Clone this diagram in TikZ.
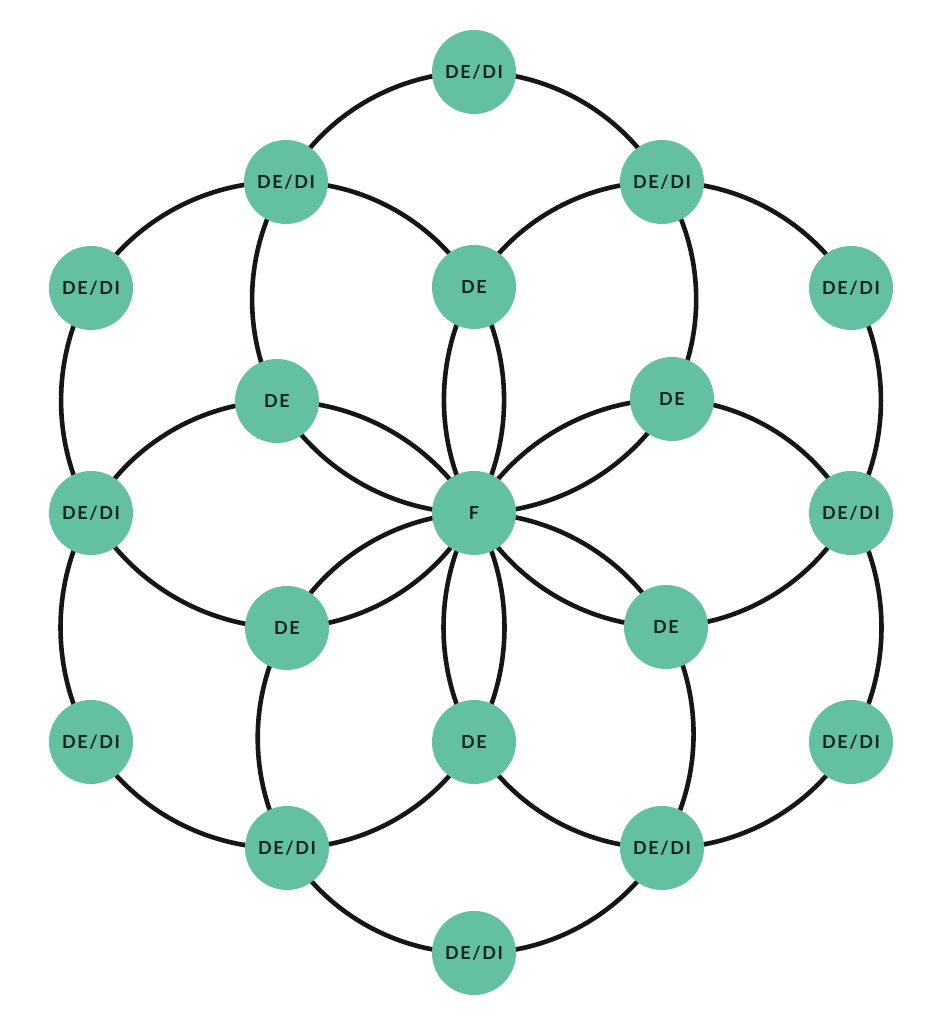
\documentclass[tikz,border=0pt]{standalone}
\usepackage{fontspec}
\setmainfont{Lato}
\usetikzlibrary{backgrounds}
\definecolor{nodegreen}{HTML}{63C0A0}
\definecolor{txt}{HTML}{17231F}
\definecolor{ring}{HTML}{161616}
\tikzset{
  spot/.style={circle, fill=nodegreen, minimum size=84pt, inner sep=0pt,
    text=txt, font=\fontsize{18}{20}\selectfont\bfseries\addfontfeatures{LetterSpace=9}},
  ringline/.style={draw=ring, line width=4.6pt, every to/.style={bend right=30, looseness=0.91}}
}
\begin{document}
\begin{tikzpicture}[x=1pt,y=1pt]
\useasboundingbox (0,0) rectangle (944,1031);
% centre
\node[spot] (F) at (474,518) {F};
% inner ring
\node[spot] (d90)  at (474,744) {DE};
\node[spot] (d30)  at (672,632) {DE};
\node[spot] (d330) at (666,404) {DE};
\node[spot] (d270) at (474,289) {DE};
\node[spot] (d210) at (287,403) {DE};
\node[spot] (d150) at (277,630) {DE};
% outer points
\node[spot] (o90)  at (474,959) {DE/DI};
\node[spot] (o30)  at (851,743) {DE/DI};
\node[spot] (o330) at (851,289) {DE/DI};
\node[spot] (o270) at (474,78)  {DE/DI};
\node[spot] (o210) at (91,289)  {DE/DI};
\node[spot] (o150) at (91,743)  {DE/DI};
% middle points
\node[spot] (m0)   at (851,518) {DE/DI};
\node[spot] (m60)  at (662,849) {DE/DI};
\node[spot] (m120) at (286,849) {DE/DI};
\node[spot] (m180) at (91,518)  {DE/DI};
\node[spot] (m240) at (287,183) {DE/DI};
\node[spot] (m300) at (662,183) {DE/DI};
\begin{scope}[on background layer]
\fill[white] (0,0) rectangle (944,1031);
\begin{scope}[ringline]
\draw (F.center) to (d30.center) to (m60.center) to (o90.center) to (m120.center) to (d150.center) to (F.center);
\draw (F.center) to (d330.center) to (m0.center) to (o30.center) to (m60.center) to (d90.center) to (F.center);
\draw (F.center) to (d270.center) to (m300.center) to (o330.center) to (m0.center) to (d30.center) to (F.center);
\draw (F.center) to (d210.center) to (m240.center) to (o270.center) to (m300.center) to (d330.center) to (F.center);
\draw (F.center) to (d150.center) to (m180.center) to (o210.center) to (m240.center) to (d270.center) to (F.center);
\draw (F.center) to (d90.center) to (m120.center) to (o150.center) to (m180.center) to (d210.center) to (F.center);
\end{scope}
\end{scope}
\end{tikzpicture}
\end{document}
